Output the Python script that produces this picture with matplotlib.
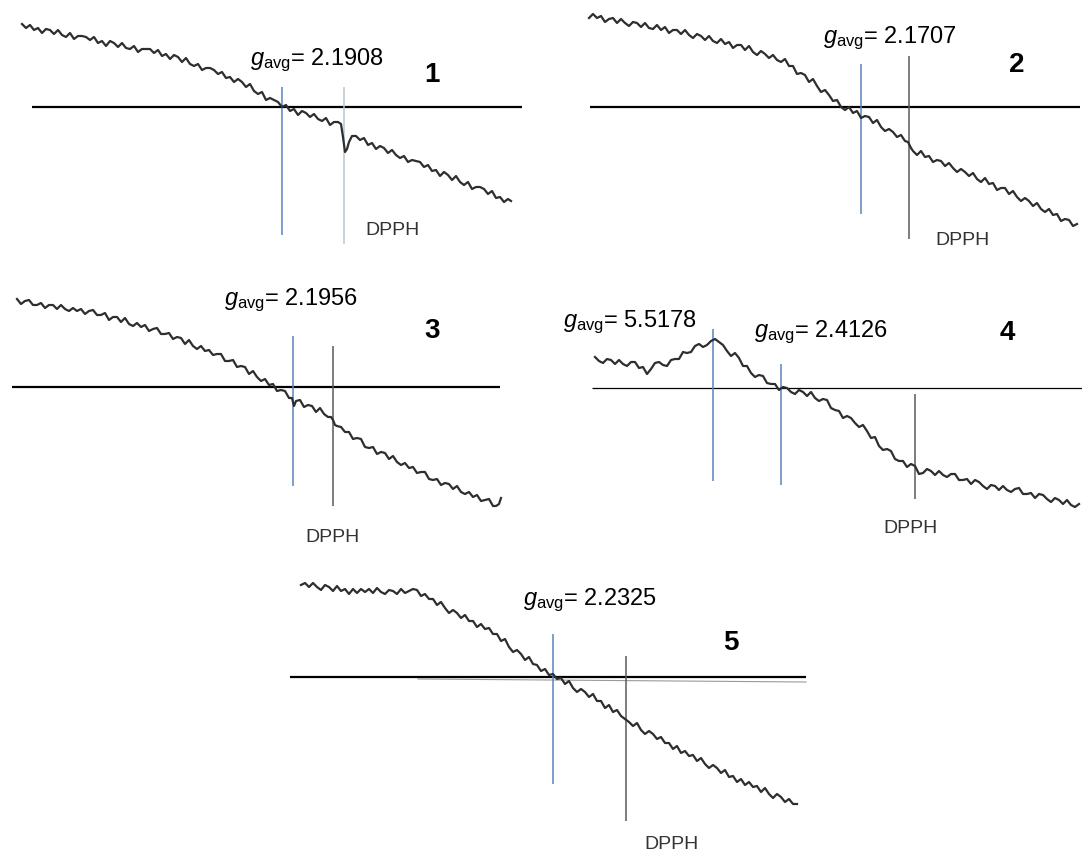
import matplotlib.pyplot as plt

plt.rcParams['font.family'] = ['Liberation Sans', 'DejaVu Sans']
plt.rcParams['mathtext.fontset'] = 'custom'
plt.rcParams['mathtext.rm'] = 'Liberation Sans'
plt.rcParams['mathtext.it'] = 'Liberation Sans:italic'

# ---- spectra: field channel vs signal (signal 0 = baseline) ----
p1_field = [22, 26, 30, 34, 38, 42, 46, 50, 54, 58, 62, 66, 70, 74, 78, 82, 86, 90, 94, 98,
            102, 106, 110, 114, 118, 122, 126, 130, 134, 138, 142, 146, 150, 154, 158, 162, 166, 170, 174, 178,
            182, 186, 190, 194, 198, 202, 206, 210, 214, 218, 222, 226, 230, 234, 238, 242, 246, 250, 254, 258,
            262, 266, 270, 274, 278, 282, 286, 290, 294, 298, 302, 306, 310, 314, 318, 322, 326, 330, 334, 338,
            341, 343, 345, 347, 349, 352,
            356, 360, 364, 368, 372, 376, 380, 384, 388, 392, 396, 400, 404, 408, 412, 416, 420, 424, 428, 432,
            436, 440, 444, 448, 452, 456, 460, 464, 468, 472, 476, 480, 484, 488, 492, 496, 500, 504, 508, 511]
p1_signal = [83, 79, 82, 77, 79, 74, 78, 77, 73, 77, 72, 70, 74, 68, 71, 71, 70, 67, 70, 64,
             66, 61, 66, 64, 60, 64, 59, 58, 61, 55, 58, 58, 58, 54, 57, 51, 53, 48, 52, 50,
             45, 49, 43, 41, 43, 37, 39, 39, 37, 33, 35, 29, 30, 25, 28, 25, 20, 23, 16, 13,
             15, 7, 9, 7, 5, 0, 2, -4, -2, -8, -4, -6, -10, -7, -12, -14, -11, -18, -15, -15,
             -17, -30, -45, -42, -35, -29,
             -29, -33, -31, -38, -36, -42, -39, -41, -46, -43, -48, -51, -49, -55, -53, -54, -55, -60, -58, -64,
             -63, -69, -65, -68, -73, -69, -75, -78, -75, -82, -80, -80, -82, -87, -84, -91, -90, -95, -92, -94]

p2_field = [589, 593, 597, 601, 605, 609, 613, 617, 621, 625, 629, 633, 637, 641, 645, 649, 653, 657, 661, 665,
            669, 673, 677, 681, 685, 689, 693, 697, 701, 705, 709, 713, 717, 721, 725, 729, 733, 737, 741, 745,
            749, 753, 757, 761, 765, 769, 773, 777, 781, 785, 789, 793, 797, 801, 805, 809, 813, 817, 821, 825,
            829, 833, 837, 841, 845, 849, 853, 857, 861, 865, 869, 873, 877, 881, 885, 889, 893, 897, 901, 905,
            908, 911, 913,
            917, 921, 925, 929, 933, 937, 941, 945, 949, 953, 957, 961, 965, 969, 973, 977, 981, 985, 989, 993,
            997, 1001, 1005, 1009, 1013, 1017, 1021, 1025, 1029, 1033, 1037, 1041, 1045, 1049, 1053, 1057,
            1061, 1065, 1069, 1073, 1077]
p2_signal = [89, 93, 89, 91, 85, 88, 89, 84, 88, 84, 81, 85, 84, 80, 84, 79, 78, 82, 77, 80,
             74, 77, 77, 73, 77, 72, 69, 73, 71, 67, 71, 66, 64, 68, 63, 65, 59, 62, 62, 57,
             61, 55, 52, 56, 53, 49, 52, 47, 45, 48, 41, 41, 33, 34, 32, 25, 28, 21, 15, 17,
             12, 6, 7, 0, -3, 0, -6, -4, -11, -9, -10, -16, -13, -20, -24, -22, -25, -30, -28, -34,
             -35, -41, -44,
             -48, -44, -50, -49, -55, -53, -54, -59, -56, -61, -65, -62, -65, -69, -66, -72, -75, -71, -77, -76,
             -83, -81, -81, -87, -84, -90, -94, -91, -94, -99, -96, -102, -105, -102, -108, -107,
             -114, -112, -113, -119, -117]

p3_field = [17, 21, 25, 29, 33, 37, 41, 45, 49, 53, 57, 61, 65, 69, 73, 77, 81, 85, 89, 93,
            97, 101, 105, 109, 113, 117, 121, 125, 129, 133, 137, 141, 145, 149, 153, 157, 161, 165, 169, 173,
            177, 181, 185, 189, 193, 197, 201, 205, 209, 213, 217, 221, 225, 229, 233, 237, 241, 245, 249, 253,
            257, 261, 265, 269, 273, 277, 281, 285, 289,
            292, 294, 296, 300, 304, 308, 312, 316, 320, 324, 328, 331, 333, 335, 337,
            341, 345, 349, 353, 357, 361, 365, 369, 373, 377, 381, 385, 389, 393, 397, 401, 405, 409, 413, 417,
            421, 425, 429, 433, 437, 441, 445, 449, 453, 457, 461, 465, 469, 473, 477, 481, 485, 489, 493,
            496, 499, 501]
p3_signal = [88, 83, 86, 87, 82, 82, 84, 79, 82, 82, 78, 82, 78, 76, 79, 76, 78, 73, 76, 77,
             72, 72, 74, 67, 70, 70, 65, 69, 63, 61, 64, 60, 62, 56, 58, 59, 53, 53, 54, 48,
             50, 49, 43, 47, 41, 38, 41, 36, 37, 32, 33, 33, 26, 26, 27, 20, 21, 20, 13, 16,
             10, 6, 8, 2, 3, -4, -3, -4, -11,
             -11, -19, -14, -13, -20, -18, -19, -25, -21, -27, -30, -30, -33, -38, -39,
             -40, -45, -45, -52, -51, -52, -60, -61, -60, -67, -65, -66, -72, -69, -75, -78, -76, -81, -80, -86,
             -85, -85, -92, -93, -92, -98, -96, -97, -102, -99, -105, -107, -105, -110, -108, -114, -113, -112, -119,
             -119, -117, -111]

p4_field = [595, 599, 603, 607, 611, 615, 619, 623, 627, 631, 635, 639, 643, 647, 651, 655, 659, 663, 667, 671,
            675, 679, 683, 687, 691, 695, 699, 703, 707, 711, 715, 719, 723, 727, 731, 735, 739, 743, 747, 751,
            755, 759, 763, 767, 771, 775, 779, 783, 787, 791, 795, 799, 803, 807, 811, 815, 819, 823, 827, 831,
            835, 839, 843, 847, 851, 855, 859, 863, 867, 871, 875, 879, 883, 887, 891, 895, 899, 903, 907, 911,
            915, 919, 923, 927, 931, 935, 939, 943, 947, 951, 955, 959, 963, 967, 971, 975, 979, 983, 987, 991,
            995, 999, 1003, 1007, 1011, 1015, 1019, 1023, 1027, 1031, 1035, 1039, 1043, 1047, 1051, 1055,
            1059, 1063, 1067, 1071, 1075, 1079]
p4_signal = [31, 27, 25, 29, 28, 24, 28, 24, 22, 26, 26, 20, 21, 14, 19, 25, 26, 23, 22, 28,
             29, 29, 36, 35, 36, 42, 44, 41, 43, 47, 49, 46, 43, 37, 32, 35, 30, 22, 22, 15,
             11, 13, 12, 5, 4, 4, -2, 1, 0, -4, -6, -2, -4, -8, -4, -10, -13, -11, -12, -20,
             -22, -23, -30, -28, -30, -35, -39, -37, -43, -50, -49, -58, -62, -61, -63, -71, -73, -73, -79, -76,
             -78, -86, -85, -81, -83, -87, -83, -87, -89, -86, -86, -92, -92, -91, -96, -92, -94, -98, -101, -97,
             -98, -102, -98, -102, -104, -101, -100, -106, -106, -105, -110, -106, -107, -111, -114, -110,
             -112, -116, -112, -117, -119, -116]

p5_field = [301, 305, 309, 313, 317, 321, 325, 329, 333, 337, 341, 345, 349, 353, 357, 361, 365, 369, 373, 377,
            381, 385, 389, 393, 397, 401, 405, 409, 413, 417, 421, 425, 429, 433, 437, 441, 445, 449, 453, 457,
            461, 465, 469, 473, 477, 481, 485, 489, 493, 497, 501, 505, 509, 513, 517, 521, 525, 529, 533, 537,
            541, 545, 549, 553, 557, 561, 565, 569, 573, 577, 581, 585, 589, 593, 597, 601, 605, 609, 613, 617,
            621, 625, 629, 633, 637, 641, 645, 649, 653, 657, 661, 665, 669, 673, 677, 681, 685, 689, 693, 697,
            701, 705, 709, 713, 717, 721, 725, 729, 733, 737, 741, 745, 749, 753, 757, 761, 765, 769, 773, 777,
            781, 785, 789, 793, 797]
p5_signal = [92, 94, 90, 94, 90, 87, 92, 90, 86, 91, 86, 88, 83, 88, 84, 88, 85, 88, 84, 89,
             85, 83, 87, 86, 83, 88, 84, 86, 88, 87, 81, 83, 78, 78, 72, 75, 69, 64, 67, 64,
             59, 62, 56, 56, 50, 53, 48, 49, 43, 43, 36, 38, 30, 25, 27, 23, 17, 20, 13, 12,
             6, 8, 2, 3, -2, -1, -7, -4, -11, -15, -12, -15, -20, -17, -24, -24, -31, -28, -35, -33,
             -39, -42, -45, -49, -46, -53, -57, -54, -57, -62, -60, -66, -66, -72, -69, -76, -74, -79, -78, -84,
             -81, -87, -91, -88, -91, -96, -93, -100, -99, -105, -102, -108, -105, -110, -109, -115, -111, -117,
             -121, -117, -120, -125, -122, -127, -127]

# g-value markers: field position, lower and upper signal
p1_marks = [(282, -128, 20), (344, -137, 20)]
p2_marks = [(861, -107, 43), (909, -132, 51)]
p3_marks = [(293, -99, 51), (333, -119, 41)]
p4_marks = [(713, -93, 59), (781, -97, 24), (915, -111, -6)]
p5_marks = [(553, -107, 43), (626, -144, 21)]

p1_labels = ['2.1908']
p2_labels = ['2.1707']
p3_labels = ['2.1956']
p4_labels = ['5.5178', '2.4126']
p5_labels = ['2.2325']

W, H = 1082, 854
fig = plt.figure(figsize=(W / 100, H / 100), dpi=100)

BLUE = '#5b84c0'
PALE = '#b7c8d4'
DARK = '#5a5a5a'
TRACE = '#2e2e2e'


def panel(box, base):
    x0, y0, x1, y1 = box
    ax = fig.add_axes([x0 / W, 1 - y1 / H, (x1 - x0) / W, (y1 - y0) / H])
    ax.set_xlim(x0, x1)
    ax.set_ylim(base - y1, base - y0)
    ax.axis('off')
    return ax


panels = [
    dict(box=(0, 0, 540, 260), base=108, field=p1_field, sig=p1_signal, marks=p1_marks,
         mcol=[BLUE, PALE], base_x=(32, 522), base_lw=1.6,
         labels=p1_labels, lab_pos=[(250, 43)], num='1', num_pos=(424, 26), dpph=(365, -127)),
    dict(box=(540, 0, 1082, 260), base=108, field=p2_field, sig=p2_signal, marks=p2_marks,
         mcol=[BLUE, DARK], base_x=(590, 1080), base_lw=1.6,
         labels=p2_labels, lab_pos=[(823, 65)], num='2', num_pos=(1009, 36), dpph=(935, -137)),
    dict(box=(0, 260, 520, 560), base=388, field=p3_field, sig=p3_signal, marks=p3_marks,
         mcol=[BLUE, DARK], base_x=(12, 500), base_lw=1.6,
         labels=p3_labels, lab_pos=[(224, 83)], num='3', num_pos=(424, 50), dpph=(305, -154)),
    dict(box=(520, 260, 1082, 560), base=389, field=p4_field, sig=p4_signal, marks=p4_marks,
         mcol=[BLUE, BLUE, DARK], base_x=(592, 1082), base_lw=0.9,
         labels=p4_labels, lab_pos=[(563, 62), (754, 52)], num='4', num_pos=(1000, 49), dpph=(883, -144)),
    dict(box=(280, 560, 820, 854), base=678, field=p5_field, sig=p5_signal, marks=p5_marks,
         mcol=[BLUE, DARK], base_x=(290, 806), base_lw=1.6,
         labels=p5_labels, lab_pos=[(523, 73)], num='5', num_pos=(723, 28), dpph=(644, -171)),
]

for p in panels:
    ax = panel(p['box'], p['base'])
    ax.hlines(0, p['base_x'][0], p['base_x'][1], color='black', lw=p['base_lw'], zorder=2)
    for (fx, lo, hi), c in zip(p['marks'], p['mcol']):
        ax.vlines(fx, lo, hi, color=c, lw=1.1, zorder=3)
    ax.plot(p['field'], p['sig'], color=TRACE, lw=1.6, zorder=4)
    for val, (lx, ly) in zip(p['labels'], p['lab_pos']):
        ax.text(lx, ly, r'$g_{\mathrm{avg}}$= ' + val, fontsize=17, va='baseline', ha='left')
    ax.text(p['num_pos'][0], p['num_pos'][1], p['num'], fontsize=20, fontweight='bold',
            va='baseline', ha='left')
    ax.text(p['dpph'][0], p['dpph'][1], 'DPPH', fontsize=14, color='#333333',
            va='baseline', ha='left')

# second, slightly tilted reference line under baseline of spectrum 5
ax.plot([418, 806], [-2, -5], color='#9a9a9a', lw=0.8, zorder=1)

fig.savefig('out.png', dpi=100)
